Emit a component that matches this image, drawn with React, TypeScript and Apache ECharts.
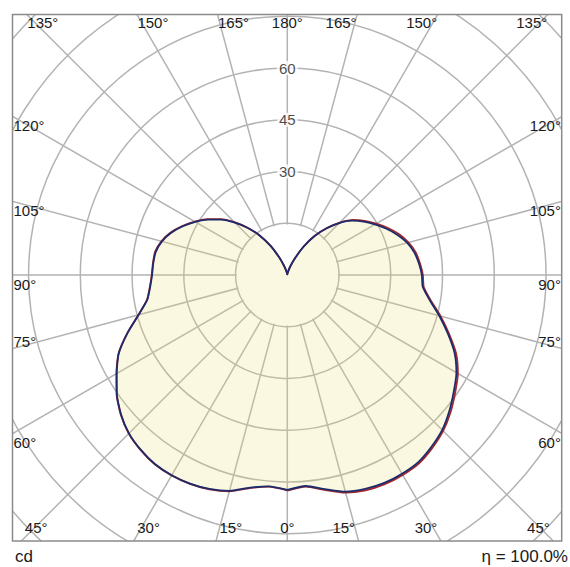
import React, { useEffect, useRef } from 'react';
import * as echarts from 'echarts';

// ---- data (candela, photometric angle gamma measured from nadir) ----
const GAMMA = [0, 5, 10, 15, 20, 25, 30, 35, 40, 45, 50, 55, 60, 65, 70, 75, 80, 85, 90, 95, 100, 105, 110, 115, 120, 125, 130, 135, 140, 145, 150, 155, 160, 165, 170, 175, 180];
// C0 plane (right half, blue)
const C0 = [62.3, 61.4, 63.0, 65.0, 66.0, 66.5, 66.5, 66.2, 65.0, 63.5, 61.3, 58.9, 56.6, 53.5, 49.5, 45.6, 41.9, 39.4, 39.0, 38.3, 37.4, 36.0, 34.0, 31.7, 29.3, 27.0, 24.5, 21.3, 17.6, 13.8, 9.6, 5.6, 3.0, 1.4, 0.6, 0.2, 0];
// C180 plane (left half, blue)
const C180 = [62.3, 61.5, 62.6, 64.8, 66.0, 66.7, 67.0, 66.9, 66.1, 64.9, 62.9, 60.3, 57.1, 53.9, 49.3, 44.6, 41.2, 39.9, 39.2, 39.0, 38.7, 37.6, 35.8, 33.4, 30.8, 28.0, 25.0, 21.5, 17.8, 14.0, 9.8, 5.8, 3.0, 1.4, 0.6, 0.2, 0];
// C90 plane (right half, red)
const C90 = [62.5, 61.6, 63.3, 65.3, 66.4, 66.9, 66.9, 66.6, 65.4, 63.9, 61.8, 59.4, 57.1, 54.0, 49.9, 46.0, 42.2, 39.7, 39.3, 38.6, 37.8, 36.4, 34.5, 32.2, 29.8, 27.4, 24.9, 21.5, 17.8, 13.9, 9.7, 5.6, 3.0, 1.4, 0.6, 0.2, 0];
// C270 plane (left half, red)
const C270 = [62.4, 61.6, 62.7, 64.9, 66.1, 66.8, 67.1, 67.0, 66.2, 65.0, 63.0, 60.4, 57.2, 54.0, 49.4, 44.7, 41.3, 40.0, 39.3, 39.1, 38.9, 37.8, 36.0, 33.6, 31.0, 28.2, 25.2, 21.7, 17.9, 14.0, 9.8, 5.8, 3.0, 1.4, 0.6, 0.2, 0];

const RADIUS_LABELS = [30, 45, 60];
const ANGLE_TICKS = [0, 15, 30, 45, 60, 75, 90, 105, 120, 135, 150, 165, 180];
const UNIT_TEXT = 'cd';
const EFF_TEXT = 'η = 100.0%';

// ---- layout ----
const W = 570;
const H = 567;
const CX = 287.3;
const CY = 275;
const PX_PER_CD = 3.45;
const R_MAX = 120;
const R_STEP = 15;
const FRAME = { l: 12.5, t: 14.5, r: 561.7, b: 541 };
const FONT = '"Liberation Sans", Arial, sans-serif';
const TEXT_COLOR = '#1a1a1a';
const GRID_COLOR = '#b3b3b3';

function curve(left: number[], right: number[]) {
  const pts: number[][] = [];
  for (let i = 0; i < GAMMA.length; i++) pts.push([left[i], GAMMA[i]]);
  for (let i = GAMMA.length - 2; i >= 0; i--) pts.push([right[i], 360 - GAMMA[i]]);
  return pts;
}

function angleLabels() {
  const els: any[] = [];
  for (const a of ANGLE_TICKS) {
    const sides = a === 0 || a === 180 ? [0] : [-1, 1];
    for (const s of sides) {
      const rad = (a * Math.PI) / 180;
      const dx = s * Math.sin(rad);
      const dy = Math.cos(rad);
      let t = Infinity;
      let edge = '';
      if (dx > 1e-9) { const tt = (FRAME.r - CX) / dx; if (tt < t) { t = tt; edge = 'r'; } }
      if (dx < -1e-9) { const tt = (CX - FRAME.l) / -dx; if (tt < t) { t = tt; edge = 'l'; } }
      if (dy > 1e-9) { const tt = (FRAME.b - CY) / dy; if (tt < t) { t = tt; edge = 'b'; } }
      if (dy < -1e-9) { const tt = (CY - FRAME.t) / -dy; if (tt < t) { t = tt; edge = 't'; } }
      const px = CX + t * dx;
      const py = CY + t * dy;
      let x: number;
      let y: number;
      let align: string;
      if (edge === 't' || edge === 'b') {
        y = edge === 't' ? FRAME.t + 8.3 : FRAME.b - 13.5;
        const off = edge === 'b' ? 3.5 : 0.5;
        if (s === 0) { x = px; align = 'center'; }
        else if (s < 0) { x = px + off; align = 'left'; }
        else { x = px - off; align = 'right'; }
      } else {
        x = edge === 'l' ? FRAME.l + 1 : FRAME.r - 0.8;
        align = edge === 'l' ? 'left' : 'right';
        y = py + (a === 75 ? -7.5 : 9);
      }
      els.push({
        type: 'text',
        z: 12,
        x,
        y,
        style: {
          text: a + '°',
          font: '15px ' + FONT,
          fill: TEXT_COLOR,
          textAlign: align,
          textVerticalAlign: 'middle',
        },
      });
    }
  }
  return els;
}

export default function App() {
  const ref = useRef<HTMLDivElement>(null);

  useEffect(() => {
    if (!ref.current) return;
    const chart = echarts.init(ref.current, null, { renderer: 'svg', width: W, height: H });

    const masks = [
      { x: 0, y: 0, width: W, height: FRAME.t },
      { x: 0, y: FRAME.b, width: W, height: H - FRAME.b },
      { x: 0, y: 0, width: FRAME.l, height: H },
      { x: FRAME.r, y: 0, width: W - FRAME.r, height: H },
    ].map((shape) => ({
      type: 'rect',
      z: 10,
      shape,
      style: { fill: '#ffffff' },
      silent: true,
    }));

    const option: any = {
      animation: false,
      backgroundColor: '#ffffff',
      polar: { center: [CX, CY], radius: R_MAX * PX_PER_CD },
      angleAxis: {
        type: 'value',
        min: 0,
        max: 360,
        interval: 15,
        startAngle: 270,
        clockwise: true,
        axisLine: { show: false },
        axisTick: { show: false },
        axisLabel: { show: false },
        splitLine: { show: true, lineStyle: { color: GRID_COLOR, width: 1.5 } },
      },
      radiusAxis: {
        type: 'value',
        min: 0,
        max: R_MAX,
        interval: R_STEP,
        axisLine: { show: false },
        axisTick: { show: false },
        axisLabel: { show: false },
        splitLine: { show: true, lineStyle: { color: GRID_COLOR, width: 1.5 } },
      },
      series: [
        {
          type: 'line',
          name: 'C90-C270',
          coordinateSystem: 'polar',
          data: curve(C270, C90),
          symbol: 'none',
          smooth: 0.2,
          z: 2,
          lineStyle: { color: '#a3282c', width: 1.8 },
          areaStyle: { color: 'rgba(232,222,118,0.22)', opacity: 1 },
        },
        {
          type: 'line',
          name: 'C0-C180',
          coordinateSystem: 'polar',
          data: curve(C180, C0),
          symbol: 'none',
          smooth: 0.2,
          z: 3,
          lineStyle: { color: '#1d2a6c', width: 1.8 },
        },
        {
          type: 'scatter',
          coordinateSystem: 'polar',
          data: RADIUS_LABELS.map((v) => [v, 180]),
          symbolSize: 2,
          z: 5,
          itemStyle: { color: 'rgba(0,0,0,0)' },
          label: {
            show: true,
            position: 'inside',
            formatter: (p: any) => String(p.value[0]),
            color: TEXT_COLOR,
            fontSize: 15,
            fontFamily: FONT,
            backgroundColor: '#ffffff',
            padding: [0, 2],
            lineHeight: 14,
          },
          silent: true,
        },
      ],
      graphic: {
        elements: [
          {
            type: 'circle',
            z: 1,
            shape: { cx: CX, cy: CY, r: R_STEP * PX_PER_CD - 1.2 },
            style: { fill: '#ffffff' },
            silent: true,
          },
          ...masks,
          {
            type: 'rect',
            z: 11,
            shape: { x: FRAME.l, y: FRAME.t, width: FRAME.r - FRAME.l, height: FRAME.b - FRAME.t },
            style: { fill: 'none', stroke: '#8a8a8a', lineWidth: 1.5 },
            silent: true,
          },
          ...angleLabels(),
          {
            type: 'text',
            z: 12,
            x: 15,
            y: 556,
            style: { text: UNIT_TEXT, font: '17px ' + FONT, fill: TEXT_COLOR, textAlign: 'left', textVerticalAlign: 'middle' },
          },
          {
            type: 'text',
            z: 12,
            x: 568,
            y: 556,
            style: { text: EFF_TEXT, font: '17px ' + FONT, fill: TEXT_COLOR, textAlign: 'right', textVerticalAlign: 'middle' },
          },
        ],
      },
    };

    chart.setOption(option);
    return () => chart.dispose();
  }, []);

  return (
    <div
      ref={ref}
      style={{ position: 'absolute', left: 0, top: 0, width: W, height: H, background: '#fff' }}
    />
  );
}
